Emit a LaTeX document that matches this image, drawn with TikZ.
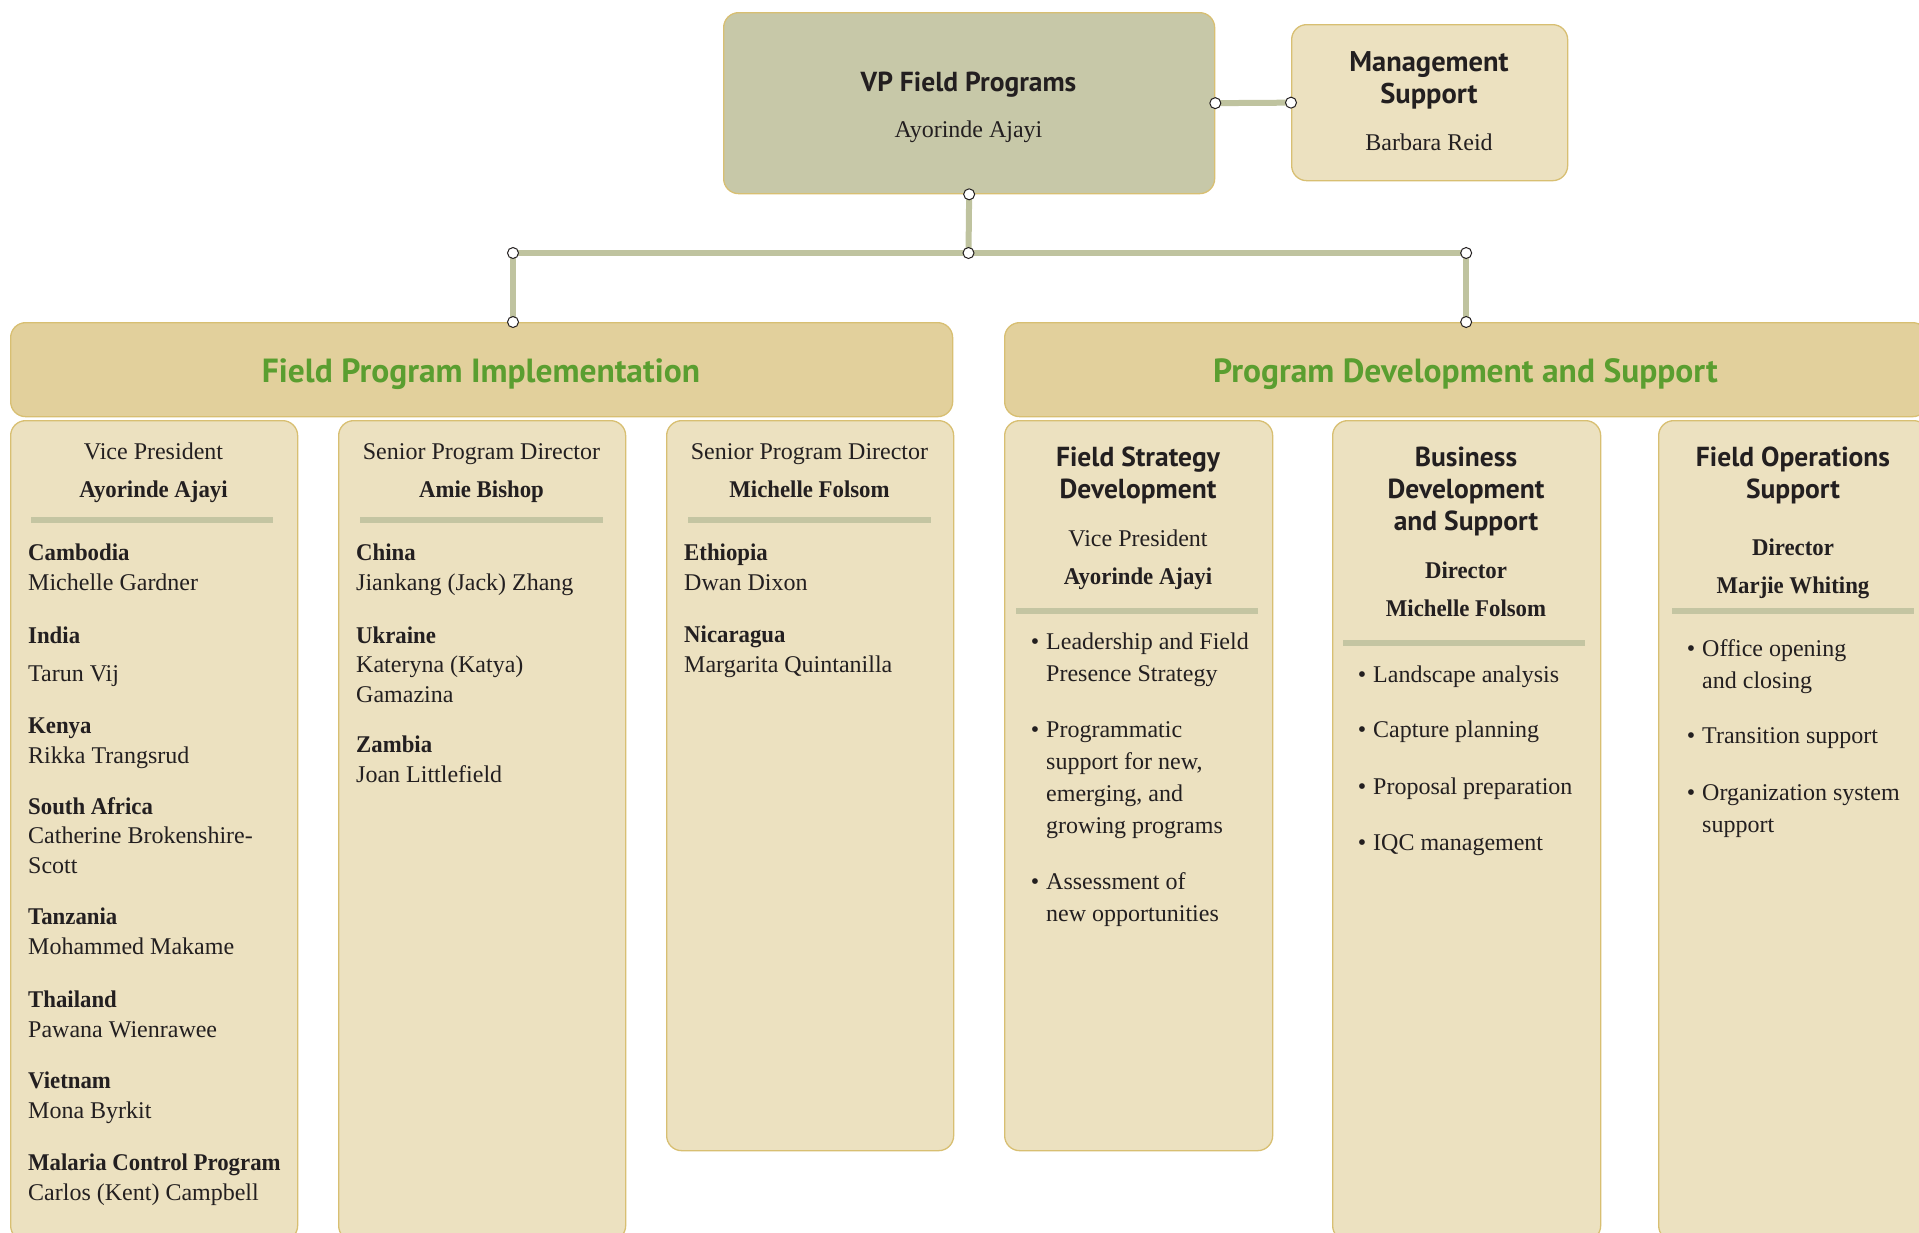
\documentclass[tikz,border=0pt]{standalone}
\usepackage{fontspec}
\setmainfont{Liberation Serif}[BoldFeatures={FakeStretch=0.95}]
\newfontfamily\headfont{PT Sans}
\usetikzlibrary{positioning}

\definecolor{vpfill}{HTML}{C7C8A8}
\definecolor{boxfill}{HTML}{ECE1C0}
\definecolor{headfill}{HTML}{E2D09C}
\definecolor{boxline}{HTML}{D8BF72}
\definecolor{linkc}{HTML}{BFC39F}
\definecolor{rulec}{HTML}{C4C5A2}
\definecolor{titlegreen}{HTML}{5A9E30}
\definecolor{ink}{HTML}{231F20}

\newcommand{\bul}{\llap{\textbullet\hskip 7pt}}

\begin{document}
\begin{tikzpicture}[x=1pt, y=-1pt, text=ink]
  \tikzstyle{box}=[draw=boxline, line width=1.3pt, rounded corners=15pt, inner sep=0pt, anchor=north west]
  \tikzstyle{link}=[draw=linkc, line width=6pt]
  \tikzstyle{dot}=[circle, draw=ink, fill=white, line width=1pt, minimum size=11pt, inner sep=0pt]
  \tikzstyle{rule}=[draw=rulec, line width=6pt]
  % base anchor = baseline of the last line
  \tikzstyle{txt}=[anchor=base west, align=left, inner sep=0pt, yshift=-3pt, font=\fontsize{24}{29.5}\selectfont]
  \tikzstyle{itm}=[txt, font=\fontsize{24}{32}\selectfont]
  \tikzstyle{ctr}=[anchor=base, align=center, inner sep=0pt, yshift=-3pt, font=\fontsize{24}{38}\selectfont]
  \tikzstyle{hd}=[anchor=base, align=center, inner sep=0pt, yshift=-2pt, font=\headfont\bfseries\fontsize{27.5}{32}\selectfont]
  \tikzstyle{title}=[anchor=base, inner sep=0pt, text=titlegreen, font=\headfont\bfseries\fontsize{33.5}{36}\selectfont]

  \useasboundingbox (0,0) rectangle (1919,1232);
  \clip (0,0) rectangle (1919,1232);

  % Boxes
  \node[box, fill=vpfill, minimum width=491pt, minimum height=181pt] (vp) at (723,12) {};
  \node[box, fill=boxfill, minimum width=276pt, minimum height=156pt] (mgmt) at (1291,24) {};
  \node[box, fill=headfill, minimum width=942pt, minimum height=94pt] (fpi) at (10,322) {};
  \node[box, fill=headfill, minimum width=923pt, minimum height=94pt] (pds) at (1004,322) {};
  \node[box, fill=boxfill, minimum width=287pt, minimum height=820pt] (c1) at (10,420) {};
  \node[box, fill=boxfill, minimum width=287pt, minimum height=820pt] (c2) at (338,420) {};
  \node[box, fill=boxfill, minimum width=287pt, minimum height=730pt] (c3) at (666,420) {};
  \node[box, fill=boxfill, minimum width=268pt, minimum height=730pt] (c4) at (1004,420) {};
  \node[box, fill=boxfill, minimum width=268pt, minimum height=820pt] (c5) at (1332,420) {};
  \node[box, fill=boxfill, minimum width=270pt, minimum height=820pt] (c6) at (1658,420) {};

  % Connectors
  \coordinate (vpR) at (vp.east);
  \coordinate (mgL) at (mgmt.west);
  \coordinate (vpB) at (vp.south);
  \coordinate (hub) at (968.5,253);
  \coordinate (lj) at (513,253);
  \coordinate (rj) at (pds.north |- hub);
  \coordinate (fpiT) at (lj |- fpi.north);
  \coordinate (pdsT) at (pds.north);
  \draw[link] (vpR) -- (mgL);
  \draw[link] (vpB) -- (hub);
  \draw[link] (lj) -- (rj);
  \draw[link] (lj) -- (fpiT);
  \draw[link] (rj) -- (pdsT);
  \foreach \p in {vpR, mgL, vpB, hub, lj, rj, fpiT, pdsT}
    \node[dot] (d\p) at (\p) {};

  % Top
  \node[hd] (vpT) at (968.5,89) {VP Field Programs};
  \node[ctr] (vpN) at (968.5,134) {Ayorinde Ajayi};
  \node[hd, font=\headfont\bfseries\fontsize{28.5}{32}\selectfont] (mgT) at (1429,101) {Management\\Support};
  \node[ctr] (mgN) at (1429,147) {Barbara Reid};

  \node[title] (fpiL) at (481,382) {Field Program Implementation};
  \node[title] (pdsL) at (1465.5,382) {Program Development and Support};

  % Separators
  \draw[rule] (31,520) -- (273,520);
  \draw[rule] (360,520) -- (603,520);
  \draw[rule] (688,520) -- (931,520);
  \draw[rule] (1016,611) -- (1258,611);
  \draw[rule] (1343,643) -- (1585,643);
  \draw[rule] (1672,611) -- (1914,611);

  % Field Program Implementation
  \node[ctr] (h1) at (153.5,494) {Vice President\\\textbf{Ayorinde Ajayi}};
  \node[txt] (e11) at (28,587) {\textbf{Cambodia}\\Michelle Gardner};
  \node[txt] (e12) at (28,678) {\textbf{India}\\[8.5pt]Tarun Vij};
  \node[txt] (e13) at (28,760) {\textbf{Kenya}\\Rikka Trangsrud};
  \node[txt] (e14) at (28,870) {\textbf{South Africa}\\Catherine Brokenshire-\\Scott};
  \node[txt] (e15) at (28,951) {\textbf{Tanzania}\\Mohammed Makame};
  \node[txt] (e16) at (28,1034) {\textbf{Thailand}\\Pawana Wienrawee};
  \node[txt] (e17) at (28,1115) {\textbf{Vietnam}\\Mona Byrkit};
  \node[txt] (e18) at (28,1197) {\textbf{Malaria Control Program}\\Carlos (Kent) Campbell};

  \node[ctr] (h2) at (481.5,494) {Senior Program Director\\\textbf{Amie Bishop}};
  \node[txt] (e21) at (356,587) {\textbf{China}\\Jiankang (Jack) Zhang};
  \node[txt] (e22) at (356,699) {\textbf{Ukraine}\\Kateryna (Katya)\\Gamazina};
  \node[txt] (e23) at (356,779) {\textbf{Zambia}\\Joan Littlefield};

  \node[ctr] (h3) at (809.5,494) {Senior Program Director\\\textbf{Michelle Folsom}};
  \node[txt] (e31) at (684,587) {\textbf{Ethiopia}\\Dwan Dixon};
  \node[txt] (e32) at (684,669) {\textbf{Nicaragua}\\Margarita Quintanilla};

  % Program Development and Support
  \node[hd] (t4) at (1138,496) {Field Strategy\\Development};
  \node[ctr] (h4) at (1138,581) {Vice President\\\textbf{Ayorinde Ajayi}};
  \node[itm] (b41) at (1046,678) {\bul Leadership and Field\\Presence Strategy};
  \node[itm] (b42) at (1046,830) {\bul Programmatic\\support for new,\\emerging, and\\growing programs};
  \node[itm] (b43) at (1046,918) {\bul Assessment of\\new opportunities};

  \node[hd] (t5) at (1466,528) {Business\\Development\\and Support};
  \node[ctr] (h5) at (1466,613) {\textbf{Director}\\\textbf{Michelle Folsom}};
  \node[itm] (b51) at (1373,679) {\bul Landscape analysis};
  \node[itm] (b52) at (1373,734) {\bul Capture planning};
  \node[itm] (b53) at (1373,791) {\bul Proposal preparation};
  \node[itm] (b54) at (1373,847) {\bul IQC management};

  \node[hd] (t6) at (1793,496) {Field Operations\\Support};
  \node[ctr] (h6) at (1793,590) {\textbf{Director}\\\textbf{Marjie Whiting}};
  \node[itm] (b61) at (1702,685) {\bul Office opening\\and closing};
  \node[itm] (b62) at (1702,740) {\bul Transition support};
  \node[itm] (b63) at (1702,829) {\bul Organization system\\support};
\end{tikzpicture}
\end{document}
